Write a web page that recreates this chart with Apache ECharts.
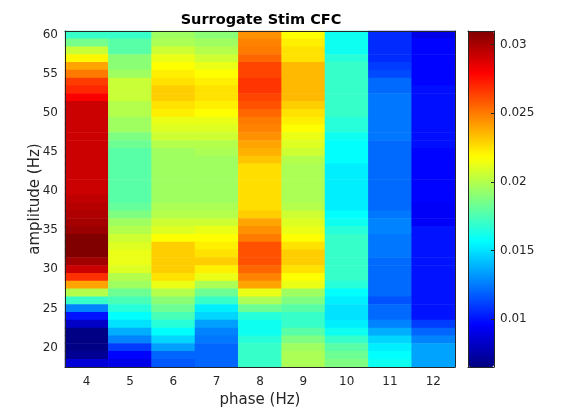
<!DOCTYPE html>
<html>
<head>
<meta charset="utf-8">
<script src="https://cdn.jsdelivr.net/npm/echarts@6/dist/echarts.min.js"></script>
<style>
  html, body { margin: 0; padding: 0; background: #fff; }
  #chart { width: 570px; height: 413px; }
</style>
</head>
<body>
<div id="chart"></div>
<script>
// phase bins (x) and amplitude bins (y)
const phases = ['4', '5', '6', '7', '8', '9', '10', '11', '12'];
const amplitudes = [];
for (let a = 18; a <= 60; a++) amplitudes.push(String(a));

// one array per phase column, read top (60 Hz) to bottom (18 Hz)
const col4 = [0.017, 0.0185, 0.0205, 0.022, 0.024, 0.025, 0.0265, 0.027, 0.028, 0.0292,
  0.0292, 0.0292, 0.0292, 0.0292, 0.0292, 0.0292, 0.0292, 0.0292, 0.0292, 0.0292,
  0.0292, 0.0295, 0.0297, 0.0299, 0.0301, 0.0304, 0.031, 0.031, 0.031, 0.0302,
  0.0292, 0.0268, 0.024, 0.020, 0.017, 0.0127, 0.010, 0.0082, 0.0066, 0.0066,
  0.0066, 0.0070, 0.0086];
const col5 = [0.017, 0.0178, 0.0178, 0.019, 0.019, 0.0195, 0.0205, 0.0205, 0.0205, 0.020,
  0.020, 0.0195, 0.0195, 0.0187, 0.0183, 0.0178, 0.0178, 0.0178, 0.0178, 0.0178,
  0.0178, 0.0178, 0.0181, 0.0187, 0.0195, 0.020, 0.0206, 0.021, 0.0213, 0.0213,
  0.021, 0.020, 0.0195, 0.0183, 0.0174, 0.0166, 0.0157, 0.015, 0.0137, 0.0127,
  0.011, 0.0096, 0.009];
const col6 = [0.0195, 0.0198, 0.0206, 0.0213, 0.0218, 0.0222, 0.0225, 0.023, 0.023, 0.0225,
  0.0222, 0.0213, 0.021, 0.0206, 0.020, 0.0195, 0.0195, 0.0195, 0.0195, 0.0195,
  0.0195, 0.0195, 0.0198, 0.020, 0.0206, 0.021, 0.0218, 0.023, 0.023, 0.023,
  0.023, 0.0225, 0.0213, 0.020, 0.019, 0.0183, 0.0174, 0.0166, 0.0157, 0.0147,
  0.0134, 0.012, 0.0117];
const col7 = [0.019, 0.0195, 0.020, 0.0206, 0.0213, 0.0218, 0.0222, 0.0225, 0.0225, 0.0222,
  0.0218, 0.0213, 0.021, 0.0206, 0.020, 0.0198, 0.0195, 0.0195, 0.0195, 0.0195,
  0.0195, 0.0195, 0.0198, 0.020, 0.0206, 0.0213, 0.0218, 0.0222, 0.0225, 0.023,
  0.0222, 0.0213, 0.0198, 0.0183, 0.017, 0.0153, 0.0147, 0.0134, 0.0127, 0.0124,
  0.012, 0.012, 0.012];
const col8 = [0.0245, 0.0248, 0.025, 0.0255, 0.0263, 0.0263, 0.0267, 0.0267, 0.0263, 0.026,
  0.0255, 0.025, 0.0248, 0.0245, 0.024, 0.0237, 0.0232, 0.0226, 0.0226, 0.0226,
  0.0226, 0.0226, 0.0226, 0.023, 0.024, 0.0245, 0.025, 0.026, 0.026, 0.026,
  0.0255, 0.0248, 0.024, 0.0213, 0.0198, 0.0183, 0.0166, 0.016, 0.016, 0.0166,
  0.017, 0.017, 0.017];
const col9 = [0.0218, 0.0222, 0.0225, 0.0225, 0.0235, 0.0235, 0.0235, 0.0235, 0.0235, 0.023,
  0.0225, 0.0222, 0.0218, 0.0213, 0.021, 0.0206, 0.020, 0.0198, 0.0198, 0.0198,
  0.0198, 0.0198, 0.020, 0.0206, 0.021, 0.0213, 0.0218, 0.0225, 0.023, 0.023,
  0.0225, 0.0218, 0.0213, 0.0195, 0.0187, 0.0178, 0.017, 0.017, 0.0178, 0.0187,
  0.0195, 0.0198, 0.0198];
const col10 = [0.016, 0.016, 0.016, 0.0166, 0.017, 0.017, 0.017, 0.017, 0.017, 0.017,
  0.017, 0.0166, 0.0166, 0.016, 0.0157, 0.0157, 0.0157, 0.0153, 0.0153, 0.0153,
  0.0153, 0.0153, 0.0153, 0.0157, 0.016, 0.0166, 0.017, 0.017, 0.017, 0.017,
  0.017, 0.017, 0.0166, 0.0157, 0.0153, 0.015, 0.015, 0.0153, 0.016, 0.017,
  0.0178, 0.0183, 0.0187];
const col11 = [0.0106, 0.0106, 0.0106, 0.0106, 0.011, 0.0113, 0.0121, 0.0121, 0.0124, 0.0124,
  0.0124, 0.0124, 0.0124, 0.0124, 0.0121, 0.0121, 0.0121, 0.0121, 0.0121, 0.0121,
  0.0121, 0.0121, 0.0121, 0.0124, 0.0127, 0.0127, 0.0124, 0.0124, 0.0124, 0.0121,
  0.0121, 0.0121, 0.0121, 0.0121, 0.0115, 0.0121, 0.0121, 0.0127, 0.0137, 0.0147,
  0.0153, 0.0157, 0.016];
const col12 = [0.009, 0.0096, 0.0096, 0.0096, 0.0096, 0.0096, 0.0096, 0.0099, 0.0099, 0.0099,
  0.0099, 0.0099, 0.0099, 0.0099, 0.0099, 0.0096, 0.0096, 0.0096, 0.0096, 0.0096,
  0.0096, 0.0096, 0.0094, 0.0094, 0.0094, 0.010, 0.010, 0.010, 0.010, 0.010,
  0.010, 0.010, 0.010, 0.010, 0.010, 0.010, 0.010, 0.011, 0.012, 0.0127,
  0.0135, 0.0135, 0.0135];
const columns = [col4, col5, col6, col7, col8, col9, col10, col11, col12];

const cbMin = 0.0065, cbMax = 0.031;
const cbTicks = [0.01, 0.015, 0.02, 0.025, 0.03];
const jet = ['#000080', '#0000ff', '#0080ff', '#00ffff', '#80ff80',
  '#ffff00', '#ff8000', '#ff0000', '#800000'];

// [phase index, amplitude index, value]
const cells = [];
columns.forEach((col, xi) => {
  col.forEach((v, k) => {
    cells.push([xi, amplitudes.length - 1 - k, v]);
  });
});

const axisColor = '#262626';
const everyFive = (i, v) => Number(v) % 5 === 0;
const plainLine = { onZero: false, lineStyle: { color: axisColor } };

const chart = echarts.init(document.getElementById('chart'));
chart.setOption({
  animation: false,
  backgroundColor: '#fff',
  title: {
    text: 'Surrogate Stim CFC',
    left: 256,
    textAlign: 'center',
    top: 8,
    textStyle: { fontFamily: 'DejaVu Sans', fontSize: 14.5, fontWeight: 'bold', color: '#000' }
  },
  grid: [
    { left: 65, top: 31, width: 390, height: 336 },
    { left: 468, top: 31, width: 26, height: 336 }
  ],
  xAxis: [
    {
      type: 'category', data: phases, gridIndex: 0, position: 'bottom', z: 5,
      name: 'phase (Hz)', nameLocation: 'middle', nameGap: 26, nameMoveOverlap: false,
      nameTextStyle: { fontFamily: 'DejaVu Sans', fontSize: 15, color: axisColor },
      axisLine: plainLine,
      axisTick: { inside: true, alignWithLabel: true, length: 4, lineStyle: { color: axisColor } },
      axisLabel: { fontFamily: 'DejaVu Sans', fontSize: 12, color: axisColor, margin: 9 },
      splitLine: { show: false }
    },
    {
      type: 'category', data: phases, gridIndex: 0, position: 'top', z: 5,
      axisLine: plainLine,
      axisTick: { inside: true, alignWithLabel: true, length: 4, lineStyle: { color: axisColor } },
      axisLabel: { show: false }
    },
    {
      type: 'value', gridIndex: 1, position: 'bottom', min: 0, max: 1, z: 10,
      axisLine: plainLine,
      axisTick: { show: false }, axisLabel: { show: false }, splitLine: { show: false }
    },
    {
      type: 'value', gridIndex: 1, position: 'top', min: 0, max: 1, z: 10,
      axisLine: plainLine,
      axisTick: { show: false }, axisLabel: { show: false }, splitLine: { show: false }
    }
  ],
  yAxis: [
    {
      type: 'category', data: amplitudes, gridIndex: 0, position: 'left', z: 5,
      name: 'amplitude (Hz)', nameLocation: 'middle', nameGap: 22, nameMoveOverlap: false,
      nameTextStyle: { fontFamily: 'DejaVu Sans', fontSize: 15, color: axisColor },
      axisLine: plainLine,
      axisTick: { inside: true, alignWithLabel: true, length: 4, interval: everyFive, lineStyle: { color: axisColor } },
      axisLabel: { fontFamily: 'DejaVu Sans', fontSize: 12, color: axisColor, margin: 7, interval: everyFive },
      splitLine: { show: false }
    },
    {
      type: 'category', data: amplitudes, gridIndex: 0, position: 'right', z: 5,
      axisLine: plainLine,
      axisTick: { inside: true, alignWithLabel: true, length: 4, interval: everyFive, lineStyle: { color: axisColor } },
      axisLabel: { show: false }
    },
    {
      type: 'value', gridIndex: 1, position: 'right', min: cbMin, max: cbMax, z: 10,
      axisLine: { show: true, onZero: false, lineStyle: { color: axisColor } },
      axisTick: { show: true, inside: true, length: 3, customValues: cbTicks, lineStyle: { color: axisColor } },
      axisLabel: {
        customValues: cbTicks, fontFamily: 'DejaVu Sans', fontSize: 12, color: axisColor, margin: 6,
        formatter: v => String(+v.toFixed(3))
      },
      splitLine: { show: false }
    },
    {
      type: 'value', gridIndex: 1, position: 'left', min: cbMin, max: cbMax, z: 10,
      axisLine: { show: true, onZero: false, lineStyle: { color: axisColor } },
      axisTick: { show: false }, axisLabel: { show: false }, splitLine: { show: false }
    }
  ],
  visualMap: {
    type: 'continuous',
    min: cbMin, max: cbMax,
    calculable: false,
    orient: 'vertical',
    left: 468, top: 31,
    itemWidth: 26, itemHeight: 336,
    padding: 0,
    seriesIndex: 0,
    inRange: { color: jet }
  },
  series: [{
    type: 'heatmap',
    xAxisIndex: 0, yAxisIndex: 0,
    data: cells,
    emphasis: { disabled: true },
    itemStyle: { borderWidth: 0 }
  }]
});
</script>
</body>
</html>
